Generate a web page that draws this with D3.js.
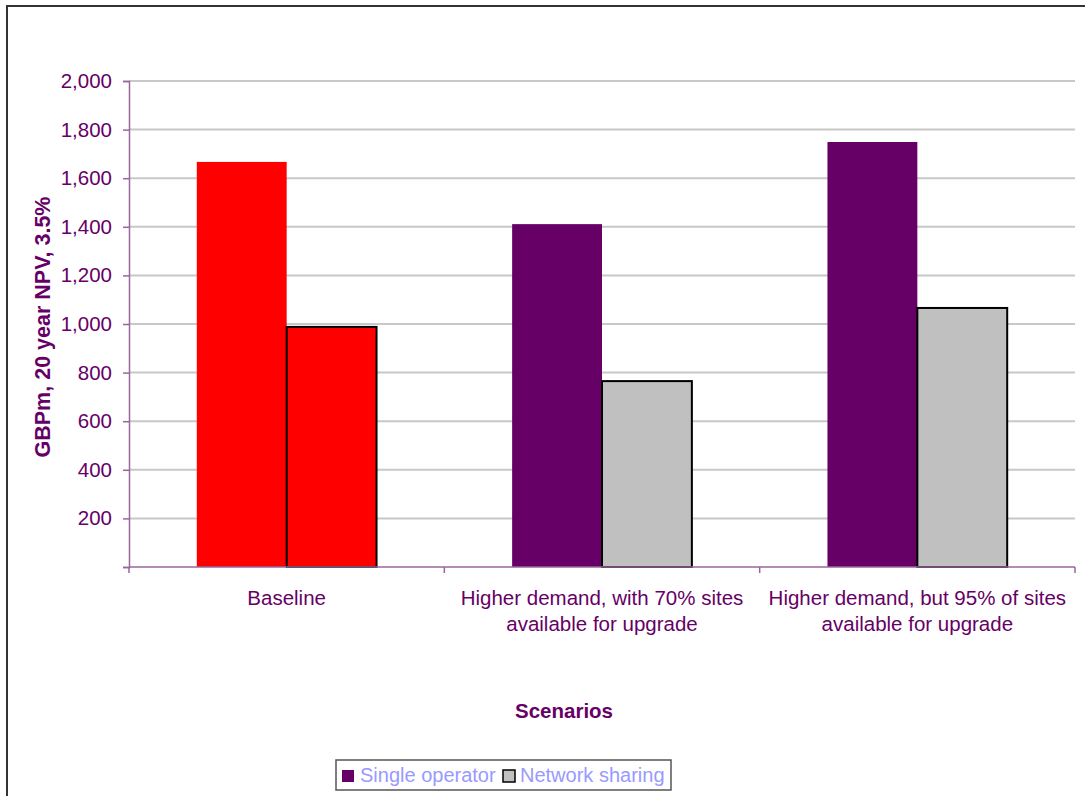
<!DOCTYPE html>
<html>
<head>
<meta charset="utf-8">
<script src="https://cdn.jsdelivr.net/npm/d3@7"></script>
<style>
  body { margin: 0; background: #fff; }
  svg { display: block; font-family: Arial, "Liberation Sans", sans-serif; }
</style>
</head>
<body>
<svg width="1085" height="796"></svg>
<script>
// data
var scenarios = [
  ['Baseline'],
  ['Higher demand, with 70% sites', 'available for upgrade'],
  ['Higher demand, but 95% of sites', 'available for upgrade']
]
var singleOperator = [1667, 1411, 1749]
var networkSharing = [988, 765, 1066]
var seriesNames = ['Single operator', 'Network sharing']
var yTicks = [0, 200, 400, 600, 800, 1000, 1200, 1400, 1600, 1800, 2000]

var purple = '#660066'
var grey = '#c0c0c0'

var svg = d3.select('svg')

// outer chart border (runs off right and bottom of the window)
svg.append('rect')
  .attr('x', 7).attr('y', 6)
  .attr('width', 1100).attr('height', 820)
  .attr('fill', 'none')
  .attr('stroke', '#333')
  .attr('stroke-width', 2)

var plotLeft = 129, plotRight = 1075, plotTop = 81, plotBottom = 567

var x = d3.scaleBand()
  .domain(d3.range(scenarios.length))
  .range([plotLeft, plotRight])

var y = d3.scaleLinear()
  .domain([0, 2000])
  .range([plotBottom, plotTop])

// gridlines
svg.append('g')
  .selectAll('line')
  .data(yTicks.filter(d => d > 0))
  .enter()
  .append('line')
  .attr('x1', plotLeft).attr('x2', plotRight)
  .attr('y1', d => y(d)).attr('y2', d => y(d))
  .attr('stroke', '#c8c8c8')
  .attr('stroke-width', 2)

// bars
var barW = x.bandwidth() * 0.285
var rows = scenarios.map((s, i) => ({ i: i, single: singleOperator[i], sharing: networkSharing[i] }))

var g = svg.append('g')
g.selectAll('rect.single')
  .data(rows)
  .enter()
  .append('rect')
  .attr('class', 'single')
  .attr('x', d => x(d.i) + x.bandwidth() / 2 - barW)
  .attr('y', d => y(d.single))
  .attr('width', barW)
  .attr('height', d => y(0) - y(d.single))
  .attr('fill', d => d.i === 0 ? '#ff0000' : purple)

g.selectAll('rect.sharing')
  .data(rows)
  .enter()
  .append('rect')
  .attr('class', 'sharing')
  .attr('x', d => x(d.i) + x.bandwidth() / 2)
  .attr('y', d => y(d.sharing))
  .attr('width', barW)
  .attr('height', d => y(0) - y(d.sharing))
  .attr('fill', d => d.i === 0 ? '#ff0000' : grey)
  .attr('stroke', '#000')
  .attr('stroke-width', 2)

// y axis
var yAxis = d3.axisLeft(y)
  .tickValues(yTicks)
  .tickSize(6)
  .tickPadding(11)
  .tickFormat(d => d === 0 ? '' : d3.format(',')(d))

var ya = svg.append('g')
  .attr('transform', 'translate(' + plotLeft + ',0)')
  .call(yAxis)
ya.select('.domain').attr('stroke', '#996699').attr('stroke-width', 1.5)
ya.selectAll('.tick line').attr('stroke', '#996699').attr('stroke-width', 1.5)
ya.selectAll('.tick text')
  .attr('fill', purple)
  .style('font-size', '20.5px')
  .style('font-family', 'Arial, "Liberation Sans", sans-serif')

// x axis line with ticks at category boundaries
var xa = svg.append('g')
xa.append('line')
  .attr('x1', plotLeft).attr('x2', plotRight)
  .attr('y1', plotBottom).attr('y2', plotBottom)
  .attr('stroke', '#996699').attr('stroke-width', 1.5)
xa.selectAll('line.tk')
  .data(d3.range(scenarios.length + 1))
  .enter()
  .append('line')
  .attr('class', 'tk')
  .attr('x1', d => plotLeft + d * x.bandwidth())
  .attr('x2', d => plotLeft + d * x.bandwidth())
  .attr('y1', plotBottom).attr('y2', plotBottom + 6)
  .attr('stroke', '#996699').attr('stroke-width', 1.5)

var lab = xa.selectAll('text.cat')
  .data(scenarios)
  .enter()
  .append('text')
  .attr('class', 'cat')
  .attr('text-anchor', 'middle')
  .attr('fill', purple)
  .style('font-size', '20.5px')
lab.selectAll('tspan')
  .data((d, i) => d.map(t => ({ t: t, i: i })))
  .enter()
  .append('tspan')
  .attr('x', d => x(d.i) + x.bandwidth() / 2)
  .attr('y', (d, j) => 605 + j * 25.5)
  .text(d => d.t)

// axis titles
svg.append('text')
  .attr('transform', 'translate(50,327) rotate(-90)')
  .attr('text-anchor', 'middle')
  .attr('fill', purple)
  .style('font-size', '21.5px')
  .style('font-weight', 'bold')
  .text('GBPm, 20 year NPV, 3.5%')

svg.append('text')
  .attr('x', 564).attr('y', 718)
  .attr('text-anchor', 'middle')
  .attr('fill', purple)
  .style('font-size', '20.5px')
  .style('font-weight', 'bold')
  .text('Scenarios')

// legend
var lg = svg.append('g')
lg.append('rect')
  .attr('x', 336).attr('y', 760)
  .attr('width', 335).attr('height', 30)
  .attr('fill', '#fff')
  .attr('stroke', '#555').attr('stroke-width', 1.5)

var legendItems = [
  { name: seriesNames[0], fill: purple, stroke: 'none', sx: 342, tx: 360 },
  { name: seriesNames[1], fill: grey, stroke: '#000', sx: 503, tx: 520 }
]
var li = lg.selectAll('g.item')
  .data(legendItems)
  .enter()
  .append('g')
li.append('rect')
  .attr('x', d => d.sx).attr('y', 770)
  .attr('width', 12).attr('height', 12)
  .attr('fill', d => d.fill)
  .attr('stroke', d => d.stroke)
  .attr('stroke-width', 1.5)
li.append('text')
  .attr('x', d => d.tx).attr('y', 782)
  .attr('fill', '#9999ff')
  .style('font-size', '20px')
  .text(d => d.name)
</script>
</body>
</html>
